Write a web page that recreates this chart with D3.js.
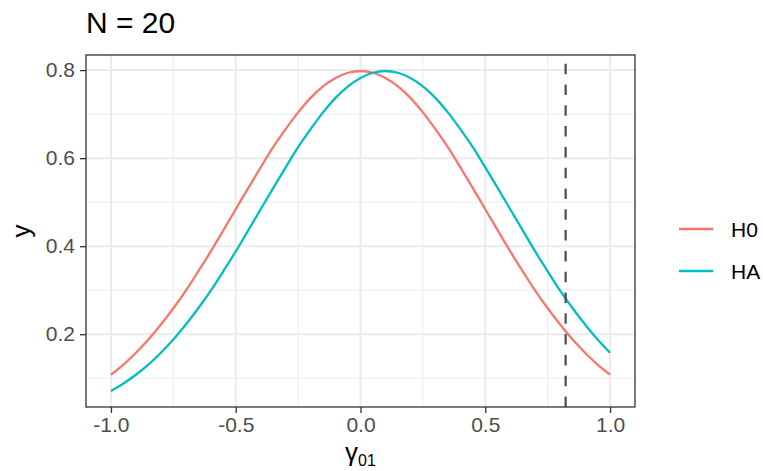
<!DOCTYPE html>
<html>
<head>
<meta charset="utf-8">
<script src="https://cdn.jsdelivr.net/npm/d3@7"></script>
<style>
  html, body { margin: 0; padding: 0; background: #fff; }
  svg { display: block; font-family: "Liberation Sans", Arial, Helvetica, sans-serif; }
</style>
</head>
<body>
<svg id="chart" width="763" height="471"></svg>
<script>
// Grid of gamma_01 values at which both densities are tabulated
const xValues = [
  -1.00, -0.95, -0.90, -0.85, -0.80, -0.75, -0.70, -0.65, -0.60, -0.55,
  -0.50, -0.45, -0.40, -0.35, -0.30, -0.25, -0.20, -0.15, -0.10, -0.05,
   0.00,  0.05,  0.10,  0.15,  0.20,  0.25,  0.30,  0.35,  0.40,  0.45,
   0.50,  0.55,  0.60,  0.65,  0.70,  0.75,  0.80,  0.85,  0.90,  0.95, 1.00
];
// Density under the null hypothesis
const h0Values = [
  0.108, 0.131, 0.158, 0.188, 0.222, 0.259, 0.299, 0.343, 0.388, 0.436,
  0.484, 0.532, 0.579, 0.625, 0.666, 0.704, 0.737, 0.763, 0.782, 0.794,
  0.798, 0.794, 0.782, 0.763, 0.737, 0.704, 0.666, 0.625, 0.579, 0.532,
  0.484, 0.436, 0.388, 0.343, 0.299, 0.259, 0.222, 0.188, 0.158, 0.131, 0.108
];
// Density under the alternative hypothesis
const haValues = [
  0.071, 0.088, 0.108, 0.131, 0.158, 0.188, 0.222, 0.259, 0.299, 0.343,
  0.388, 0.436, 0.484, 0.532, 0.579, 0.625, 0.666, 0.704, 0.737, 0.763,
  0.782, 0.794, 0.798, 0.794, 0.782, 0.763, 0.737, 0.704, 0.666, 0.625,
  0.579, 0.532, 0.484, 0.436, 0.388, 0.343, 0.299, 0.259, 0.222, 0.188, 0.158
];
const seriesNames = ["H0", "HA"];
const seriesColors = ["#F8766D", "#00BFC4"];
const criticalValue = 0.822;
const xTicks = [-1.0, -0.5, 0.0, 0.5, 1.0];
const xMinorTicks = [-0.75, -0.25, 0.25, 0.75];
const yTicks = [0.2, 0.4, 0.6, 0.8];
const yMinorTicks = [0.1, 0.3, 0.5, 0.7];
const titleText = "N = 20";

const svg = d3.select("#chart");
const panel = { left: 86, right: 635, top: 55, bottom: 407 };

// Scales with a 5% expansion on both sides of the data range
const xExt = d3.extent(xValues);
const xPad = (xExt[1] - xExt[0]) * 0.05;
const x = d3.scaleLinear().domain([xExt[0] - xPad, xExt[1] + xPad]).range([panel.left, panel.right]);
const allY = h0Values.concat(haValues);
const yExt = d3.extent(allY);
const yPad = (yExt[1] - yExt[0]) * 0.05;
const y = d3.scaleLinear().domain([yExt[0] - yPad, yExt[1] + yPad]).range([panel.bottom, panel.top]);

// Tick labels with a plain hyphen for negatives
const fmt = d => d3.format(".1f")(d).replace("\u2212", "-");

// Panel background and grid
const g = svg.append("g");
g.append("rect")
  .attr("x", panel.left).attr("y", panel.top)
  .attr("width", panel.right - panel.left).attr("height", panel.bottom - panel.top)
  .attr("fill", "#fff");

const grid = g.append("g");
grid.selectAll(".vminor").data(xMinorTicks).join("line")
  .attr("x1", d => x(d)).attr("x2", d => x(d))
  .attr("y1", panel.top).attr("y2", panel.bottom)
  .attr("stroke", "#EBEBEB").attr("stroke-width", 1);
grid.selectAll(".hminor").data(yMinorTicks).join("line")
  .attr("y1", d => y(d)).attr("y2", d => y(d))
  .attr("x1", panel.left).attr("x2", panel.right)
  .attr("stroke", "#EBEBEB").attr("stroke-width", 1);
grid.selectAll(".vmajor").data(xTicks).join("line")
  .attr("x1", d => x(d)).attr("x2", d => x(d))
  .attr("y1", panel.top).attr("y2", panel.bottom)
  .attr("stroke", "#EBEBEB").attr("stroke-width", 2);
grid.selectAll(".hmajor").data(yTicks).join("line")
  .attr("y1", d => y(d)).attr("y2", d => y(d))
  .attr("x1", panel.left).attr("x2", panel.right)
  .attr("stroke", "#EBEBEB").attr("stroke-width", 2);

// Density curves
const series = [
  { name: seriesNames[0], values: h0Values, color: seriesColors[0] },
  { name: seriesNames[1], values: haValues, color: seriesColors[1] }
];
const line = d3.line()
  .x((d, i) => x(xValues[i]))
  .y(d => y(d))
  .curve(d3.curveCatmullRom);
g.selectAll(".curve").data(series).join("path")
  .attr("d", d => line(d.values))
  .attr("fill", "none")
  .attr("stroke", d => d.color)
  .attr("stroke-width", 2.3);

// Critical value marker, dashes laid out from the bottom of the panel
g.append("line")
  .attr("x1", x(criticalValue)).attr("x2", x(criticalValue))
  .attr("y1", panel.bottom).attr("y2", panel.top)
  .attr("stroke", "#4D4D4D").attr("stroke-width", 2.2)
  .attr("stroke-dasharray", "10.5,10.3");

// Panel border
g.append("rect")
  .attr("x", panel.left).attr("y", panel.top)
  .attr("width", panel.right - panel.left).attr("height", panel.bottom - panel.top)
  .attr("fill", "none").attr("stroke", "#333333").attr("stroke-width", 1.3);

// Axes
const xAxis = d3.axisBottom(x).tickValues(xTicks).tickFormat(fmt)
  .tickSizeInner(6).tickSizeOuter(0).tickPadding(4);
const yAxis = d3.axisLeft(y).tickValues(yTicks).tickFormat(fmt)
  .tickSizeInner(6).tickSizeOuter(0).tickPadding(5);

const gx = svg.append("g").attr("transform", `translate(0,${panel.bottom})`).call(xAxis);
const gy = svg.append("g").attr("transform", `translate(${panel.left},0)`).call(yAxis);
[gx, gy].forEach(a => {
  a.select(".domain").remove();
  a.selectAll(".tick line").attr("stroke", "#333333").attr("stroke-width", 1.3);
  a.selectAll(".tick text")
    .attr("fill", "#4D4D4D")
    .style("font-size", "21px")
    .style("font-family", "'Liberation Sans', Arial, sans-serif");
});
gx.selectAll(".tick text").attr("dy", "0.71em");

// Title
svg.append("text")
  .attr("x", panel.left).attr("y", 33)
  .attr("fill", "#000")
  .style("font-size", "30px")
  .text(titleText);

// Axis titles
const xTitle = svg.append("text")
  .attr("x", (panel.left + panel.right) / 2)
  .attr("y", 461)
  .attr("text-anchor", "middle")
  .attr("fill", "#000")
  .style("font-size", "26px");
xTitle.append("tspan").text("γ");
xTitle.append("tspan").attr("dy", 5).style("font-size", "16px").text("01");

svg.append("text")
  .attr("transform", `translate(30,${(panel.top + panel.bottom) / 2}) rotate(-90)`)
  .attr("text-anchor", "middle")
  .attr("fill", "#000")
  .style("font-size", "26px")
  .text("y");

// Legend
const legend = svg.append("g");
const legendY = [229, 271];
series.forEach((s, i) => {
  legend.append("line")
    .attr("x1", 679).attr("x2", 713)
    .attr("y1", legendY[i]).attr("y2", legendY[i])
    .attr("stroke", s.color).attr("stroke-width", 2.3);
  legend.append("text")
    .attr("x", 731).attr("y", legendY[i])
    .attr("dy", "0.36em")
    .attr("fill", "#000")
    .style("font-size", "21px")
    .text(s.name);
});
</script>
</body>
</html>
